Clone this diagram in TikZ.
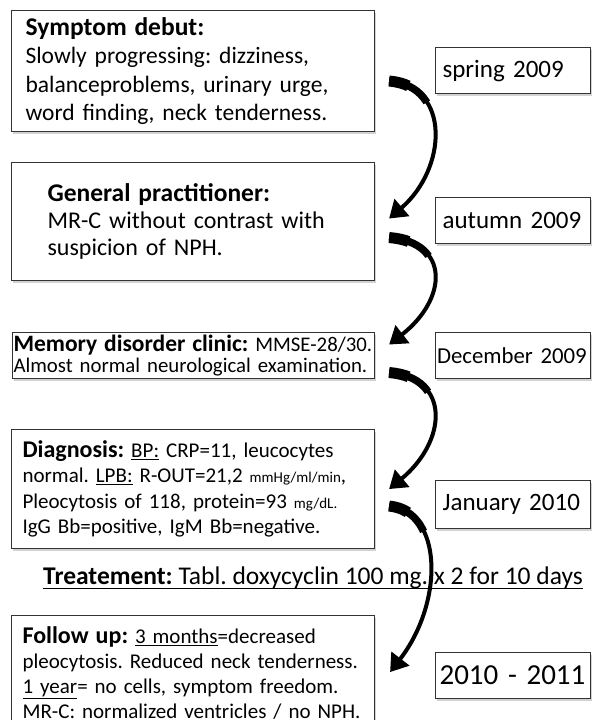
\documentclass[tikz,border=0pt]{standalone}
\usepackage{fontspec}
\setmainfont{Carlito}
\usetikzlibrary{arrows.meta,calc,shadows}
\frenchspacing

\begin{document}
\begin{tikzpicture}[x=1pt,y=-1pt]
    \tikzset{
        box/.style={draw=black!80, line width=1.1pt, fill=white, anchor=north west,
            align=left, inner ysep=0pt,
            drop shadow={shadow xshift=1.5pt, shadow yshift=-2pt, opacity=0.35}},
        date/.style={box, inner xsep=7pt, minimum width=155pt, minimum height=46pt, text width=141pt},
        flow arrow/.style={line width=4pt, -{Triangle[length=17pt,width=22pt]},
            preaction={draw, line width=7.5pt, dash pattern=on 45pt off 2000pt, arrows=-},
            preaction={draw, line width=11pt, dash pattern=on 20pt off 2000pt, arrows=-}}
    }
    \fill [white] (0,0) rectangle (592,720);
    \useasboundingbox (0,0) rectangle (592,720);
    % boxes on the left
    \node [box, minimum width=363pt, minimum height=121pt, text width=335pt, inner xsep=14pt,
        font=\fontsize{23.5}{28.5}\selectfont] (debut) at (11,10)
        {{\fontsize{25.5}{26}\selectfont\bfseries Symptom debut:}\\
         Slowly progressing: dizziness,\\
         balanceproblems, urinary urge,\\
         word finding, neck tenderness.};
    \node [box, minimum width=363pt, minimum height=118pt, text width=291pt, inner xsep=36pt,
        font=\fontsize{24}{27}\selectfont] (gp) at (11,162)
        {{\fontsize{25.5}{26}\selectfont\bfseries General practitioner:}\\
         MR-C without contrast with\\
         suspicion of NPH.};
    \node [box, minimum width=362pt, minimum height=46pt, text width=360pt, inner xsep=1pt,
        font=\fontsize{20.8}{21}\selectfont] (clinic) at (12,332)
        {{\fontsize{23.5}{21}\selectfont\bfseries Memory disorder clinic:} MMSE-28/30.\\
         Almost normal neurological examination.};
    \node [box, minimum width=363pt, minimum height=119pt, text width=341pt, inner xsep=11pt,
        font=\fontsize{21}{25.5}\selectfont] (diag) at (11,429)
        {{\fontsize{24}{24}\selectfont\bfseries Diagnosis:} \underline{BP:} CRP=11, leucocytes\\
         normal. \underline{LPB:} R-OUT=21,2 {\fontsize{15}{15}\selectfont mmHg/ml/min},\\
         Pleocytosis of 118, protein=93 {\fontsize{15}{15}\selectfont mg/dL.}\\
         IgG Bb=positive, IgM Bb=negative.};
    \node [anchor=base west, inner sep=0pt, font=\fontsize{25.5}{25.5}\selectfont] (treat) at (43,584)
        {\textbf{Treatement:} Tabl. doxycyclin 100 mg. x 2 for 10 days};
    \draw [line width=1pt] ([yshift=-4pt]treat.base west) -- ([yshift=-4pt]treat.base east);
    \node [box, minimum width=363pt, minimum height=115pt, text width=341pt, inner xsep=11pt,
        font=\fontsize{21}{25}\selectfont] (follow) at (11,615)
        {{\fontsize{24}{24}\selectfont\bfseries Follow up:} \underline{3 months}=decreased\\
         pleocytosis. Reduced neck tenderness.\\
         \underline{1 year}= no cells, symptom freedom.\\
         MR-C: normalized ventricles / no NPH.};
    % dates on the right
    \node [date, font=\fontsize{25}{25}\selectfont] (spring) at (435,47) {spring 2009};
    \node [date, font=\fontsize{25}{25}\selectfont] (autumn) at (435,197) {autumn 2009};
    \node [date, inner xsep=1.5pt, text width=152pt, font=\fontsize{22.8}{22.8}\selectfont] (dec) at (435,332) {December 2009};
    \node [date, minimum height=48pt, font=\fontsize{25}{25}\selectfont] (jan) at (435,480) {January 2010};
    \node [date, inner xsep=4pt, text width=147pt, font=\fontsize{29}{29}\selectfont] (later) at (435,652) {2010 - 2011};
    % arrows between the steps
    \draw [flow arrow] ($(debut.east)+(14,10)$) .. controls +(62,5) and +(58,-50) .. ($(gp.east)+(14,-3)$);
    \draw [flow arrow] ($(gp.east)+(14,16)$) .. controls +(62,5) and +(58,-45) .. ($(clinic.east)+(14,-11)$);
    \draw [flow arrow] ($(clinic.east)+(14,17)$) .. controls +(62,5) and +(58,-48) .. ($(diag.east)+(14,0)$);
    \draw [flow arrow] ($(diag.east)+(14,17)$) .. controls +(54,5) and +(54,-70) .. ($(follow.east)+(15,-1)$);
\end{tikzpicture}
\end{document}
